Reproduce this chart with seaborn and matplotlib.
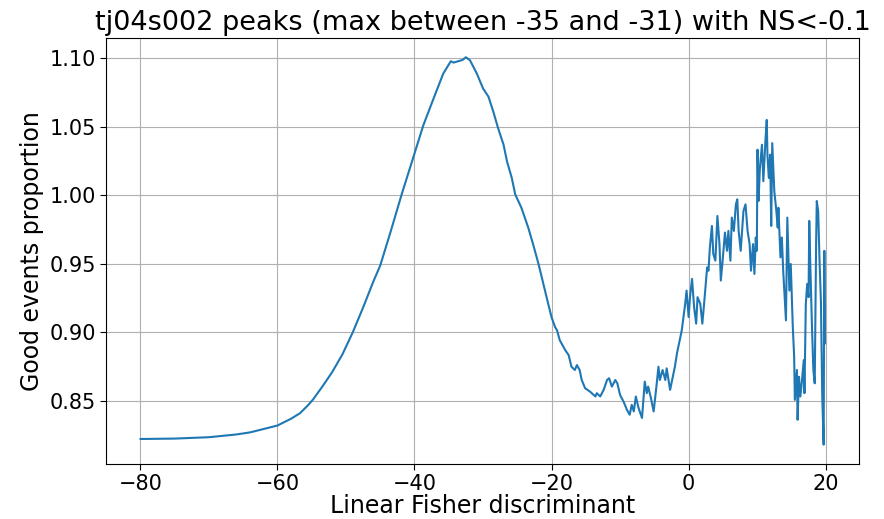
import matplotlib
matplotlib.use("Agg")
import matplotlib.pyplot as plt
import pandas as pd
import seaborn as sns

# values
fisher = [
    -80.0, -75.0, -70.0, -66.0, -64.0, -62.0, -60.0, -58.0, -56.7, -55.5,
    -54.8, -53.5, -52.0, -50.5, -49.0, -47.5, -46.0, -45.0, -43.5, -41.9,
    -40.2, -38.7, -37.3, -35.8, -34.7, -34.3, -33.6, -33.0, -32.5, -31.9,
    -30.9, -30.0, -29.2, -28.5, -27.8, -27.0, -26.5, -25.8, -25.3, -24.4,
    -23.9, -23.4, -22.7, -21.9, -21.2, -20.5, -20.0, -19.5, -19.2, -18.8,
    -18.0, -17.5, -17.1, -16.6, -16.3, -15.9, -15.6, -15.1, -14.4, -13.6,
    -13.4, -12.9, -12.4, -11.9, -11.6, -11.2, -10.7, -10.4, -10.0, -9.5,
    -9.0, -8.6, -8.3, -8.0, -7.7, -7.3, -6.8, -6.4, -6.1, -5.9,
    -5.5, -5.1, -4.7, -4.4, -4.2, -3.8, -3.4, -3.2, -2.7, -2.0,
    -1.7, -1.2, -1.0, -0.5, -0.3, 0.0, 0.2, 0.5, 0.8, 1.1,
    1.3, 1.7, 2.0, 2.3, 2.7, 2.9, 3.1, 3.4, 3.6, 3.9,
    4.2, 4.5, 4.7, 5.0, 5.3, 5.6, 5.8, 6.1, 6.3, 6.6,
    6.9, 7.1, 7.3, 7.6, 8.0, 8.3, 8.6, 8.9, 9.1, 9.4,
    9.6, 9.8, 9.95, 10.05, 10.2, 10.4, 10.7, 10.9, 11.2, 11.4,
    11.5, 11.7, 11.9, 12.05, 12.2, 12.5, 12.8, 13.0, 13.1, 13.4,
    13.6, 13.8, 14.2, 14.4, 14.7, 14.9, 15.2, 15.4, 15.5, 15.8,
    15.9, 16.1, 16.3, 16.5, 16.8, 16.9, 17.1, 17.3, 17.5, 17.6,
    17.8, 18.0, 18.2, 18.4, 18.6, 18.7, 18.9, 19.1, 19.3, 19.5,
    19.6, 19.7, 19.8, 19.9,
]
good_prop = [
    0.8222, 0.8225, 0.8235, 0.8255, 0.8270, 0.8295, 0.8320, 0.8370, 0.8410, 0.8470,
    0.8510, 0.8600, 0.8710, 0.8840, 0.9000, 0.9180, 0.9370, 0.9486, 0.9730, 1.0000,
    1.0270, 1.0510, 1.0693, 1.0886, 1.0976, 1.0966, 1.0976, 1.0985, 1.1005, 1.0983,
    1.0886, 1.0778, 1.0717, 1.0609, 1.0488, 1.0367, 1.0246, 1.0125, 1.0005, 0.9908,
    0.9836, 0.9763, 0.9643, 0.9498, 0.9353, 0.9210, 0.9110, 0.9040, 0.9014, 0.8942,
    0.8870, 0.8833, 0.8749, 0.8725, 0.8761, 0.8725, 0.8652, 0.8592, 0.8568, 0.8532,
    0.8556, 0.8532, 0.8580, 0.8652, 0.8665, 0.8604, 0.8652, 0.8628, 0.8543, 0.8495,
    0.8435, 0.8399, 0.8471, 0.8423, 0.8532, 0.8447, 0.8375, 0.8640, 0.8556, 0.8604,
    0.8520, 0.8423, 0.8604, 0.8749, 0.8652, 0.8725, 0.8652, 0.8737, 0.8580, 0.8750,
    0.8846, 0.8966, 0.9014, 0.9208, 0.9304, 0.9111, 0.9256, 0.9389, 0.9183, 0.9063,
    0.9256, 0.9208, 0.9063, 0.9232, 0.9473, 0.9449, 0.9618, 0.9775, 0.9570, 0.9522,
    0.9848, 0.9643, 0.9377, 0.9546, 0.9727, 0.9594, 0.9739, 0.9522, 0.9836, 0.9739,
    0.9933, 0.9969, 0.9739, 0.9594, 0.9884, 0.9933, 0.9739, 0.9643, 0.9449, 0.9643,
    0.9425, 0.9691, 0.9594, 1.0331, 0.9957, 1.0198, 1.0367, 1.0101, 1.0391, 1.0548,
    1.0295, 1.0125, 1.0295, 0.9775, 1.0379, 1.0029, 0.9884, 0.9763, 0.9908, 0.9546,
    0.9691, 0.9449, 0.9087, 0.9836, 0.9304, 0.9498, 0.9038, 0.8821, 0.8507, 0.8725,
    0.8362, 0.8676, 0.8532, 0.8628, 0.8797, 0.8556, 0.9208, 0.9353, 0.9256, 0.9812,
    0.9401, 0.9038, 0.8725, 0.8628, 0.9643, 0.9957, 0.9884, 0.9522, 0.9232, 0.8532,
    0.8362, 0.8181, 0.9594, 0.8918,
]

df = pd.DataFrame({"lfd": fisher, "prop": good_prop})

sns.set_style("ticks")
plt.rcParams['font.family'] = ['DejaVu Sans']
plt.rcParams['text.color'] = 'black'
plt.rcParams['axes.labelcolor'] = 'black'
plt.rcParams['xtick.color'] = 'black'
plt.rcParams['ytick.color'] = 'black'

fig = plt.figure(figsize=(8.84, 5.19), dpi=100)
ax = fig.add_axes([0.12, 0.106, 0.852, 0.821])
sns.lineplot(data=df, x="lfd", y="prop", sort=False, estimator=None,
             color="#1f77b4", linewidth=1.5, ax=ax)

ax.grid(True, color="#b0b0b0", linewidth=0.8)
ax.set_xticks([-80, -60, -40, -20, 0, 20])
ax.set_yticks([0.85, 0.90, 0.95, 1.00, 1.05, 1.10])
ax.tick_params(labelsize=15, length=4, color="black")
for s in ax.spines.values():
    s.set_color("black")
    s.set_linewidth(0.8)

ax.set_title("tj04s002 peaks (max between -35 and -31) with NS<-0.1", fontsize=19.5)
ax.set_xlabel("Linear Fisher discriminant", fontsize=17, labelpad=0)
ax.set_ylabel("Good events proportion", fontsize=17)

fig.savefig("out.png", dpi=100)
